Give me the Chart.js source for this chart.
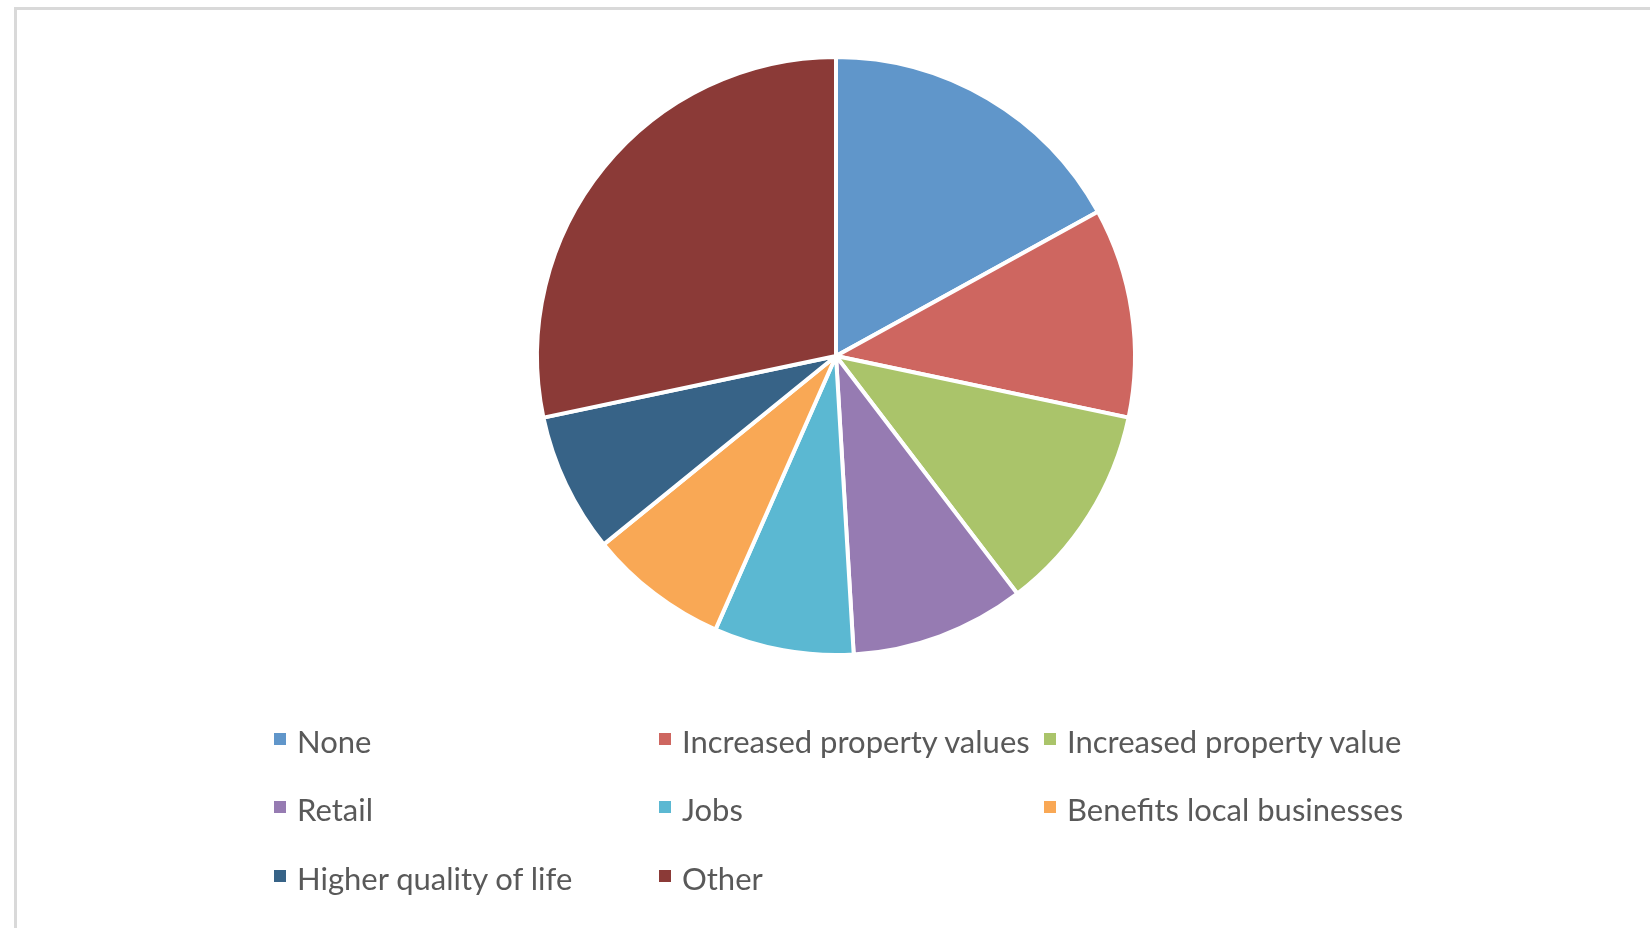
<!DOCTYPE html>
<html>
<head>
<meta charset="utf-8">
<script src="https://cdn.jsdelivr.net/npm/chart.js@4.4.0/dist/chart.umd.min.js"></script>
<style>
  html, body { margin: 0; padding: 0; background: #fff; width: 1650px; height: 928px; overflow: hidden; }
  #frame { position: absolute; left: 14px; top: 7px; width: 1700px; height: 1000px; border: 3px solid #d9d9d9; box-sizing: border-box; }
  #wrap { position: absolute; left: 0; top: 0; width: 1650px; height: 928px; }
  #legend { position: absolute; left: 0; top: 0; width: 1650px; height: 928px; pointer-events: none;
            font-family: Lato, "Open Sans", sans-serif; color: #595959; }
  .box { position: absolute; width: 12px; height: 12px; }
  .txt { position: absolute; font-size: 31px; line-height: 1; white-space: nowrap; }
</style>
</head>
<body>
<div id="frame"></div>
<div id="wrap"><canvas id="c"></canvas></div>
<div id="legend"></div>
<script>
const categories = ["None", "Increased property values", "Increased property value", "Retail", "Jobs", "Benefits local businesses", "Higher quality of life", "Other"];
const counts = [9, 6, 6, 5, 4, 4, 4, 15];
const colors = ["#6096CA", "#CE6660", "#AAC46A", "#967BB2", "#5BB8D2", "#F9A855", "#376387", "#8B3A37"];

const chart = new Chart(document.getElementById('c'), {
  type: 'pie',
  data: {
    labels: categories,
    datasets: [{
      data: counts,
      backgroundColor: colors,
      borderColor: '#ffffff',
      borderWidth: 4
    }]
  },
  options: {
    responsive: true,
    maintainAspectRatio: false,
    animation: false,
    layout: { padding: { left: 535, right: 513, top: 55, bottom: 271 } },
    plugins: {
      legend: { display: false },
      tooltip: { enabled: false }
    }
  }
});

// HTML legend in a 3-column grid, built from the chart's own legend items
const colX = [274, 659, 1044];
const rowCenter = [742, 810, 879];
const legendEl = document.getElementById('legend');
const items = Chart.overrides.pie.plugins.legend.labels.generateLabels(chart);
items.forEach((it, i) => {
  const col = i % 3, row = Math.floor(i / 3);
  const box = document.createElement('div');
  box.className = 'box';
  box.style.background = it.fillStyle;
  box.style.left = colX[col] + 'px';
  box.style.top = (rowCenter[row] - 9) + 'px';
  const t = document.createElement('div');
  t.className = 'txt';
  t.textContent = it.text;
  t.style.left = (colX[col] + 23) + 'px';
  t.style.top = (rowCenter[row] - 16.4) + 'px';
  legendEl.appendChild(box);
  legendEl.appendChild(t);
});
</script>
</body>
</html>
